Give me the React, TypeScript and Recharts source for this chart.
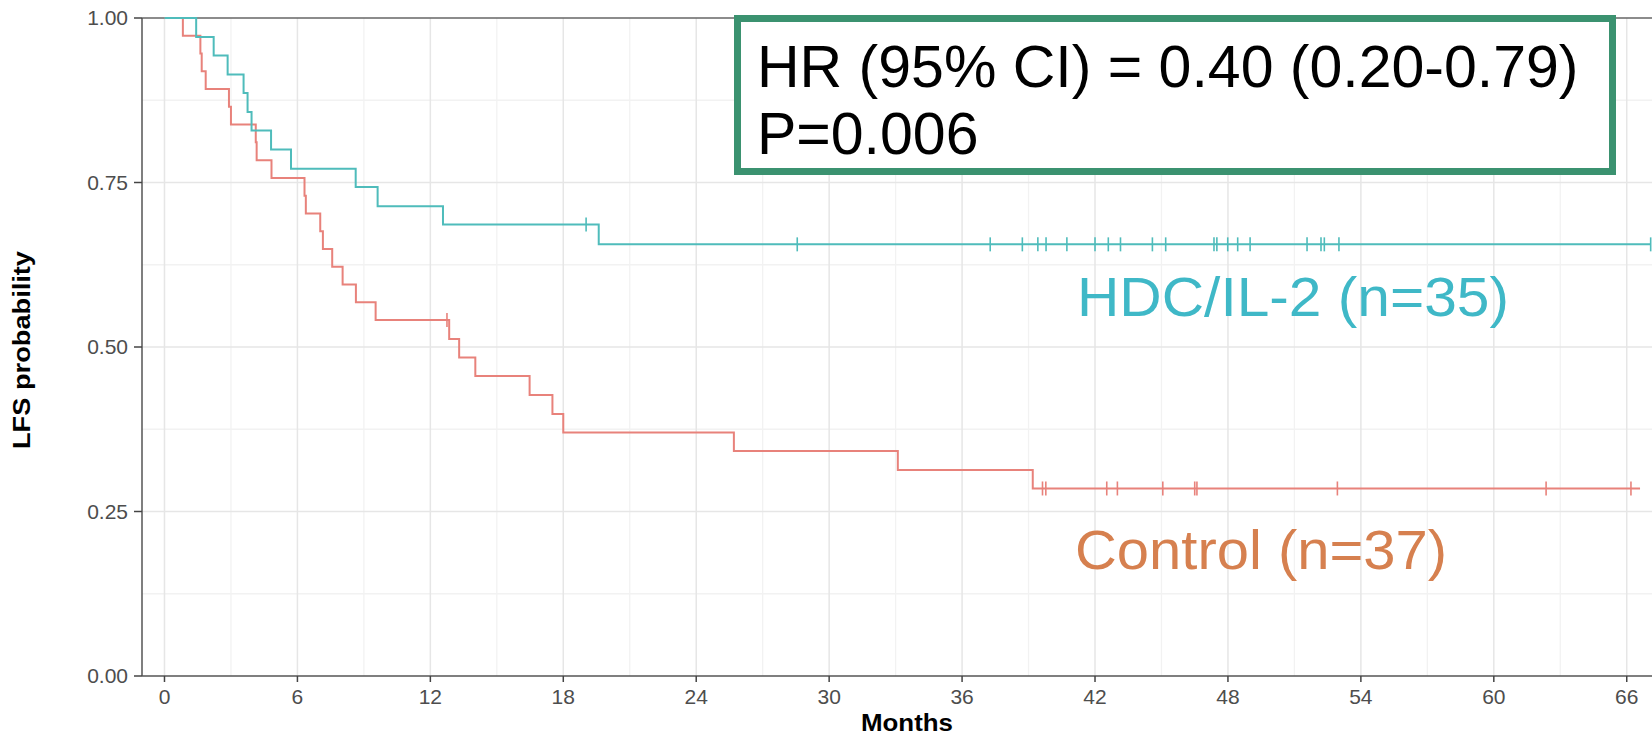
import { ComposedChart, Line, Scatter, XAxis, YAxis, ReferenceLine } from "recharts";

// Kaplan-Meier steps (months, survival after the drop)
const hdcTimes = [0, 1.43, 2.22, 2.85, 3.57, 3.75, 3.93, 4.81, 5.71, 8.63, 9.62, 12.57, 19.6, 67.08];
const hdcSurv = [1, 0.971, 0.943, 0.914, 0.886, 0.857, 0.829, 0.8, 0.771, 0.743, 0.714, 0.686, 0.656, 0.656];
const hdcCensor = [19.03, 28.56, 37.27, 38.72, 39.42, 39.79, 40.73, 42.0, 42.6, 43.15, 44.59, 45.19, 47.37, 47.5, 47.99, 48.44, 49.0, 51.57, 52.2, 52.35, 53.01, 67.08];

const ctrlTimes = [0, 0.83, 1.62, 1.68, 1.86, 2.91, 3.0, 4.12, 4.16, 4.83, 6.32, 6.38, 7.03, 7.15, 7.57, 8.04, 8.64, 9.53, 12.85, 13.3, 14.03, 16.48, 17.51, 18.0, 25.7, 33.1, 39.19, 66.6];
const ctrlSurv = [1, 0.973, 0.946, 0.919, 0.892, 0.865, 0.838, 0.811, 0.784, 0.757, 0.73, 0.703, 0.676, 0.649, 0.622, 0.595, 0.568, 0.541, 0.512, 0.484, 0.456, 0.427, 0.398, 0.37, 0.342, 0.313, 0.285, 0.285];
const ctrlCensor = [12.75, 39.63, 39.78, 42.53, 43.01, 45.06, 46.5, 46.6, 52.94, 62.36, 66.19];

const xTicks = [0, 6, 12, 18, 24, 30, 36, 42, 48, 54, 60, 66];
const xMinor = [3, 9, 15, 21, 27, 33, 39, 45, 51, 57, 63];
const yTicks = [0, 0.25, 0.5, 0.75, 1];
const yMajorGrid = [0.25, 0.5, 0.75];
const yMinor = [0.125, 0.375, 0.625, 0.875];

const HDC_COLOR = "#4fbcbb";
const CTRL_COLOR = "#e8827b";
const FONT = "'Liberation Sans', Arial, sans-serif";

const toSteps = (times: number[], surv: number[]) => times.map((t, i) => ({ t, s: surv[i] }));

const levelAt = (times: number[], surv: number[], x: number) => {
  let s = 1;
  times.forEach((t, i) => {
    if (t <= x) s = surv[i];
  });
  return s;
};

const toCensor = (cens: number[], times: number[], surv: number[]) =>
  cens.map((t) => ({ t, s: levelAt(times, surv, t) }));

const hdcData = toSteps(hdcTimes, hdcSurv);
const ctrlData = toSteps(ctrlTimes, ctrlSurv);
const hdcMarks = toCensor(hdcCensor, hdcTimes, hdcSurv);
const ctrlMarks = toCensor(ctrlCensor, ctrlTimes, ctrlSurv);

const censorShape = (color: string) => (props: any) => {
  const { cx, cy } = props;
  if (cx == null || cy == null) return <g />;
  return <line x1={cx} x2={cx} y1={cy - 7} y2={cy + 7} stroke={color} strokeWidth={1.6} />;
};

const tickStyle = { fontSize: 21, fill: "#4d4d4d", fontFamily: FONT };

const App = () => (
  <div style={{ position: "relative", width: 1652, height: 737, background: "#fff" }}>
    <style>{"body{margin:0}"}</style>
    <ComposedChart width={1652} height={737} margin={{ top: 18, right: 0, bottom: 0, left: 0 }}>
      {xMinor.map((v) => (
        <ReferenceLine key={"xm" + v} x={v} stroke="#f2f2f2" strokeWidth={1.3} />
      ))}
      {yMinor.map((v) => (
        <ReferenceLine key={"ym" + v} y={v} stroke="#f2f2f2" strokeWidth={1.3} />
      ))}
      {xTicks.map((v) => (
        <ReferenceLine key={"xM" + v} x={v} stroke="#e6e6e6" strokeWidth={1.5} />
      ))}
      {yMajorGrid.map((v) => (
        <ReferenceLine key={"yM" + v} y={v} stroke="#e6e6e6" strokeWidth={1.5} />
      ))}
      <ReferenceLine y={1} stroke="#666" strokeWidth={1.5} />
      <XAxis
        dataKey="t"
        type="number"
        domain={[-1.015, 67.14]}
        ticks={xTicks}
        allowDataOverflow
        height={61}
        tick={tickStyle}
        tickSize={6}
        tickMargin={7}
        tickLine={{ stroke: "#444", strokeWidth: 1.5 }}
        axisLine={{ stroke: "#555", strokeWidth: 1.5 }}
      />
      <YAxis
        type="number"
        domain={[0, 1]}
        ticks={yTicks}
        width={142}
        tick={tickStyle}
        tickFormatter={(v: number) => v.toFixed(2)}
        tickSize={8}
        tickMargin={6}
        tickLine={{ stroke: "#444", strokeWidth: 1.5 }}
        axisLine={{ stroke: "#555", strokeWidth: 1.5 }}
      />
      <Line data={ctrlData} dataKey="s" type="stepAfter" stroke={CTRL_COLOR} strokeWidth={2} dot={false} activeDot={false} isAnimationActive={false} />
      <Line data={hdcData} dataKey="s" type="stepAfter" stroke={HDC_COLOR} strokeWidth={2} dot={false} activeDot={false} isAnimationActive={false} />
      <Scatter data={ctrlMarks} dataKey="s" shape={censorShape(CTRL_COLOR)} isAnimationActive={false} />
      <Scatter data={hdcMarks} dataKey="s" shape={censorShape(HDC_COLOR)} isAnimationActive={false} />
    </ComposedChart>
    <svg width={1652} height={737} style={{ position: "absolute", left: 0, top: 0, pointerEvents: "none" }} fontFamily={FONT}>
      <text
        transform="translate(30, 350) rotate(-90)"
        textAnchor="middle"
        fontSize={23}
        fontWeight="bold"
        fill="#000"
        textLength={198}
        lengthAdjust="spacingAndGlyphs"
      >
        LFS probability
      </text>
      <text x={907} y={731} textAnchor="middle" fontSize={24} fontWeight="bold" fill="#000" textLength={92} lengthAdjust="spacingAndGlyphs">
        Months
      </text>
      <rect x={737.5} y={18.5} width={875} height={153} fill="#fff" stroke="#3b9270" strokeWidth={7} />
      <text x={757} y={87} fontSize={59} fill="#000">
        HR (95% CI) = 0.40 (0.20-0.79)
      </text>
      <text x={757} y={154} fontSize={59} fill="#000">
        P=0.006
      </text>
      <text x={1077} y={316} fontSize={56} fill="#3fb8c7" textLength={432} lengthAdjust="spacingAndGlyphs">
        HDC/IL-2 (n=35)
      </text>
      <text x={1075} y={569} fontSize={55} fill="#d6804f" textLength={372} lengthAdjust="spacingAndGlyphs">
        Control (n=37)
      </text>
    </svg>
  </div>
);

export default App;
